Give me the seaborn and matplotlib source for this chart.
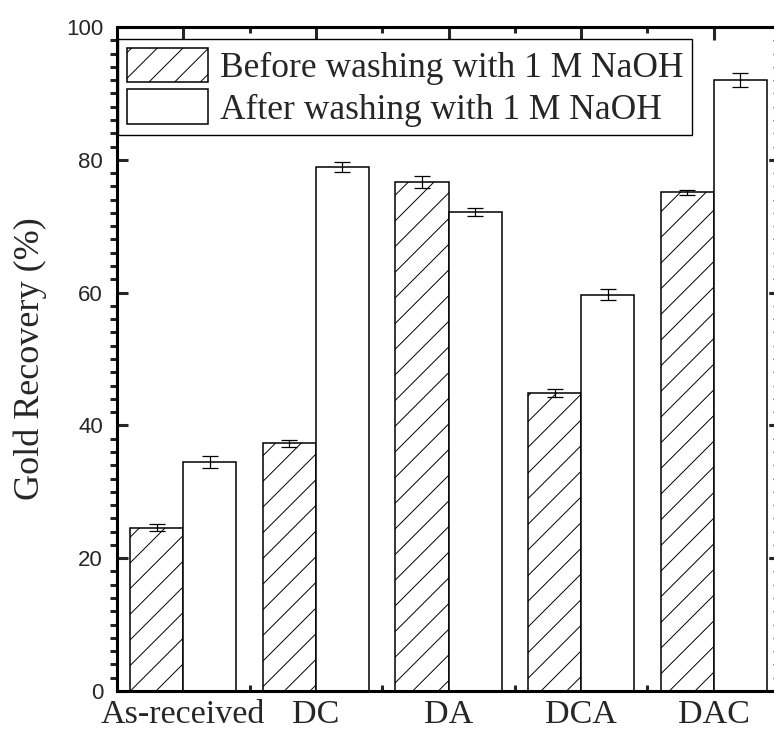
import matplotlib
matplotlib.use("Agg")
import matplotlib.pyplot as plt
import seaborn as sns
import pandas as pd
from matplotlib.patches import Patch
from matplotlib.ticker import MultipleLocator, FixedLocator

# ---- data ----
samples = ["As-received", "DC", "DA", "DCA", "DAC"]
before = [24.6, 37.3, 76.7, 44.9, 75.1]
before_err = [0.5, 0.5, 0.9, 0.6, 0.4]
after = [34.5, 78.9, 72.2, 59.7, 92.0]
after_err = [0.9, 0.7, 0.6, 0.8, 1.1]
labels = ["Before washing with 1 M NaOH", "After washing with 1 M NaOH"]

df = pd.DataFrame({
    "Sample": samples * 2,
    "Recovery": before + after,
    "Condition": [labels[0]] * len(samples) + [labels[1]] * len(samples),
})

DPI = 77
S = 100 / DPI  # convert sizes designed at 100 dpi

sns.set_style("ticks")
plt.rcParams["hatch.linewidth"] = 0.7 * S
plt.rcParams["font.family"] = ["Liberation Sans", "DejaVu Sans"]

fig = plt.figure(figsize=(774 / DPI, 733 / DPI), dpi=DPI)
ax = fig.add_axes([117 / 774, (733 - 691) / 733, (780 - 117) / 774, (691 - 27) / 733])

sns.barplot(data=df, x="Sample", y="Recovery", hue="Condition", hue_order=labels,
            order=samples, palette=["white", "white"], saturation=1, errorbar=None,
            edgecolor="black", linewidth=1.1 * S, width=0.8, legend=False, ax=ax)

for bar in ax.containers[0].patches:
    bar.set_hatch("/")

for cont, err in zip(ax.containers, [before_err, after_err]):
    xs = [b.get_x() + b.get_width() / 2 for b in cont.patches]
    hs = [b.get_height() for b in cont.patches]
    ax.errorbar(xs, hs, yerr=err, fmt="none", ecolor="black", elinewidth=0.9 * S,
                capsize=6 * S, capthick=0.9 * S, zorder=5)

ax.set_xlim(-0.5, 4.5)
ax.set_ylim(0, 100)
ax.yaxis.set_major_locator(MultipleLocator(20))
ax.yaxis.set_minor_locator(MultipleLocator(2))
ax.xaxis.set_minor_locator(FixedLocator([0.5, 1.5, 2.5, 3.5]))

for s in ax.spines.values():
    s.set_linewidth(2.2 * S)
    s.set_color("black")
    s.set_visible(True)

ax.tick_params(axis="x", which="major", direction="in", length=9 * S, width=2.2 * S,
               top=True, bottom=True, pad=6 * S)
ax.tick_params(axis="x", which="minor", direction="in", length=4.5 * S, width=2.2 * S,
               top=True, bottom=True)
ax.tick_params(axis="y", which="major", direction="in", length=8 * S, width=2.2 * S,
               left=True, right=True, pad=10 * S)
ax.tick_params(axis="y", which="minor", direction="out", length=5 * S, width=2.2 * S,
               left=True, right=False)

sec = ax.secondary_yaxis("right")
sec.yaxis.set_major_locator(MultipleLocator(20))
sec.yaxis.set_minor_locator(MultipleLocator(2))
sec.tick_params(which="major", direction="in", length=8 * S, width=2.2 * S, labelright=False)
sec.tick_params(which="minor", direction="in", length=5 * S, width=1.0 * S, labelright=False)
sec.spines["right"].set_linewidth(2.2 * S)

serif_fam = ["Liberation Serif", "DejaVu Serif"]
ax.set_xticks(range(len(samples)))
ax.set_xticklabels(samples, fontdict={"family": serif_fam, "size": 24.5 * S})
for t in ax.get_yticklabels():
    t.set_fontfamily(["Liberation Sans", "DejaVu Sans"])
    t.set_fontsize(16 * S)

ax.set_xlabel("")
ax.set_ylabel("Gold Recovery (%)", fontdict={"family": serif_fam, "size": 26 * S})
ax.yaxis.set_label_coords(-0.105, 0.5)

handles = [Patch(facecolor="white", edgecolor="black", hatch="/", linewidth=1.1 * S),
           Patch(facecolor="white", edgecolor="black", linewidth=1.1 * S)]
leg = ax.legend(handles, labels, loc="upper left", bbox_to_anchor=(0.0015, 0.982),
                frameon=True, fancybox=False, edgecolor="black", framealpha=1,
                borderaxespad=0, borderpad=0.25, handlelength=2.3, handleheight=1.12,
                handletextpad=0.32, labelspacing=0.12,
                prop={"family": serif_fam, "size": 25.5 * S})
leg.get_frame().set_linewidth(1.0 * S)

fig.savefig("out.png", dpi=DPI)
